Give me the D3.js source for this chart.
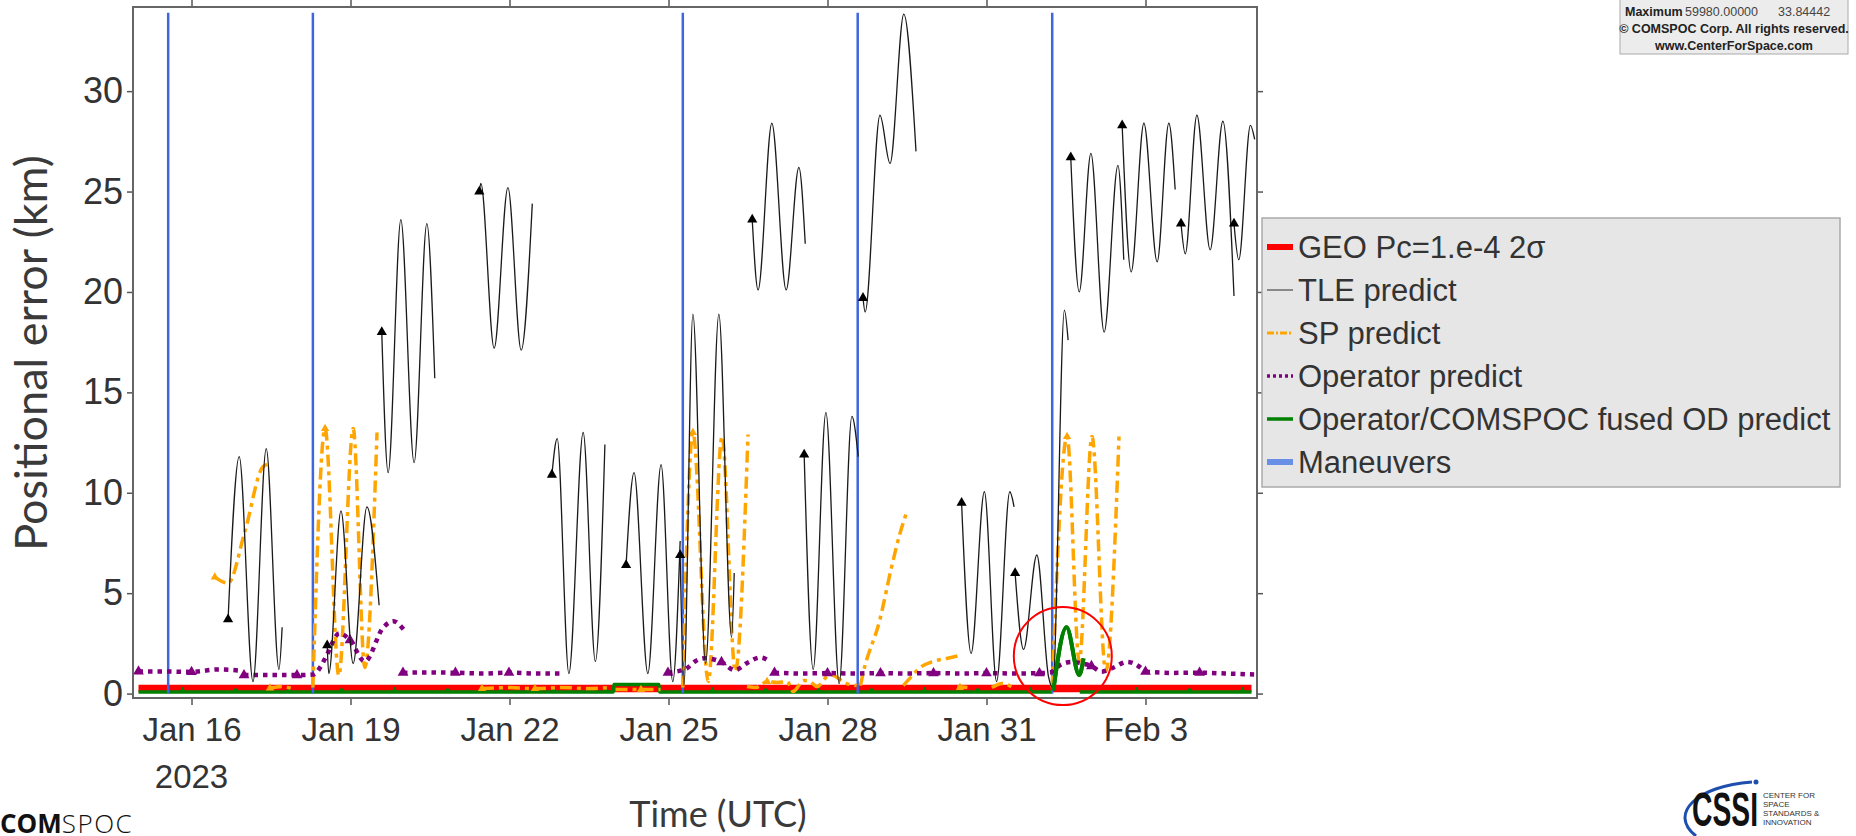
<!DOCTYPE html>
<html>
<head>
<meta charset="utf-8">
<script src="https://cdn.jsdelivr.net/npm/d3@7"></script>
<style>
  body { margin: 0; background: #fff; }
  svg { display: block; font-family: "Liberation Sans", Arial, sans-serif; }
</style>
</head>
<body>
<svg id="chart" width="1856" height="836"></svg>
<script>
// ---- data (time = day of January 2023, e.g. 32.24 = Feb 1 05:45) ----
const maneuverDays = [15.56, 18.29, 25.27, 28.57, 32.24];
const maneuverSpan = [0, 33.9];

const geoPcLevel = 0.25;
const geoPcSpan = [15.0, 36.0];

// TLE predict, one array per TLE epoch (first point = epoch marker)
const tleSegments = [
  [[16.69, 3.7], [16.90, 11.8], [17.16, 0.6], [17.41, 12.2], [17.65, 1.2], [17.71, 3.3]],
  [[18.56, 2.4], [18.59, 1.0], [18.82, 9.1], [19.05, 1.5], [19.31, 9.3], [19.54, 4.4]],
  [[19.59, 18.0], [19.71, 11.0], [19.95, 23.6], [20.20, 11.5], [20.44, 23.4], [20.59, 15.7]],
  [[21.43, 25.0], [21.46, 25.4], [21.71, 17.2], [21.97, 25.2], [22.22, 17.1], [22.43, 24.4]],
  [[22.80, 10.9], [22.90, 12.7], [23.12, 1.0], [23.39, 13.0], [23.62, 1.6], [23.80, 12.4]],
  [[24.20, 6.4], [24.35, 11.0], [24.61, 1.0], [24.86, 11.4], [25.08, 0.6], [25.22, 7.6]],
  [[25.22, 6.9], [25.29, 0.4], [25.46, 18.9], [25.70, 1.5], [25.95, 18.9], [26.19, 2.8], [26.24, 6.0]],
  [[26.58, 23.6], [26.69, 20.1], [26.95, 28.4], [27.22, 20.1], [27.46, 26.2], [27.58, 22.4]],
  [[27.56, 11.9], [27.73, 1.2], [27.97, 14.0], [28.22, 0.5], [28.46, 13.8], [28.58, 11.8]],
  [[28.67, 19.7], [28.71, 19.0], [28.99, 28.8], [29.18, 26.4], [29.44, 33.84], [29.67, 27.0]],
  [[30.53, 9.5], [30.71, 2.0], [30.96, 10.05], [31.19, 0.6], [31.44, 10.05], [31.52, 9.3]],
  [[31.54, 6.0], [31.70, 2.2], [31.95, 6.9], [32.17, 0.85], [32.25, 0.3], [32.47, 19.1], [32.54, 17.6]],
  [[32.59, 26.7], [32.75, 20.0], [32.97, 26.9], [33.22, 18.0], [33.48, 26.3], [33.59, 21.6]],
  [[33.56, 28.3], [33.73, 21.0], [33.97, 28.4], [34.22, 21.5], [34.44, 28.4], [34.56, 25.1]],
  [[34.67, 23.4], [34.75, 21.9], [34.97, 28.8], [35.22, 22.1], [35.46, 28.5], [35.67, 19.8]],
  [[35.67, 23.4], [35.76, 21.6], [35.98, 28.3], [36.06, 27.6]]
];

// SP predict
const spSegments = [
  [[16.44, 5.8], [16.69, 5.5], [17.01, 8.1], [17.35, 11.3], [17.48, 11.45]],
  [[18.29, 0.3], [18.52, 13.2], [18.78, 0.9], [19.05, 13.2], [19.27, 1.3], [19.50, 13.0]],
  [[25.27, 0.3], [25.46, 13.0], [25.75, 0.6], [26.01, 12.8], [26.26, 1.1], [26.50, 12.9]],
  [[26.48, 0.35], [26.65, 0.3], [26.86, 0.6], [27.05, 0.55], [27.24, 0.6], [27.35, 0.1], [27.55, 0.65],
   [27.67, 0.6], [27.80, 0.35], [28.05, 0.95], [28.36, 0.5], [28.55, 0.4]],
  [[28.62, 0.4], [28.67, 1.0], [28.99, 3.7], [29.20, 6.2], [29.37, 8.0], [29.49, 9.0]],
  [[29.43, 0.4], [29.60, 0.9], [29.75, 1.3], [29.99, 1.6], [30.25, 1.75], [30.50, 1.9]],
  [[32.24, 0.3], [32.52, 12.8], [32.75, 1.6], [32.99, 12.8], [33.25, 1.1], [33.50, 12.8]],
  [[17.48, 0.27], [17.70, 0.35], [17.90, 0.25]],
  [[21.48, 0.25], [22.00, 0.3], [22.48, 0.25], [23.00, 0.3], [23.50, 0.25], [23.90, 0.3]],
  [[24.00, 0.2], [24.48, 0.2], [24.85, 0.2]],
  [[30.45, 0.35], [30.64, 0.3]],
  [[31.10, 0.3], [31.30, 0.5], [31.50, 0.3]]
];
const spMarkers = [[16.44, 5.8], [18.52, 13.2], [25.46, 13.0], [32.52, 12.8], [17.48, 0.27],
  [21.48, 0.25], [22.48, 0.25], [24.48, 0.2], [26.86, 0.6], [30.50, 0.3]];

// Operator predict
const operatorSegments = [
  [[15.00, 1.1], [15.50, 1.1], [16.00, 1.08], [16.50, 1.2], [16.90, 1.15]],
  [[16.99, 0.92], [17.50, 0.92], [17.99, 0.92], [18.30, 0.95], [18.45, 1.4], [18.55, 1.9], [18.79, 3.0],
   [18.99, 2.66], [19.27, 1.6], [19.62, 3.3], [19.81, 3.6], [20.00, 3.2]],
  [[19.99, 1.04], [20.50, 1.05], [20.98, 1.04], [21.50, 1.0], [21.99, 1.04], [22.50, 1.0], [22.99, 1.0]],
  [[24.99, 1.04], [25.15, 1.1], [25.34, 1.25], [25.50, 1.6], [25.68, 1.76], [26.00, 1.57], [26.25, 1.17],
   [26.50, 1.55], [26.73, 1.8], [26.92, 1.58]],
  [[27.00, 1.04], [27.50, 1.0], [28.00, 1.02], [28.50, 1.0], [29.00, 1.02], [29.50, 1.0], [30.00, 1.02],
   [30.50, 1.0], [31.00, 1.02], [31.50, 1.0], [32.00, 1.02], [32.20, 1.05], [32.39, 1.42], [32.61, 1.58],
   [32.80, 1.5], [32.98, 1.37], [33.17, 1.09], [33.40, 1.3], [33.65, 1.58], [33.85, 1.4], [33.96, 1.17]],
  [[34.00, 1.09], [34.50, 1.03], [35.02, 1.04], [35.50, 1.0], [36.05, 0.95]]
];
const operatorMarkers = [[15.00, 1.1], [16.00, 1.08], [16.99, 0.92], [17.99, 0.92], [18.99, 2.66],
  [19.99, 1.04], [20.98, 1.04], [21.99, 1.04], [24.99, 1.04], [26.00, 1.57], [27.00, 1.04], [28.00, 1.02],
  [29.00, 1.02], [30.00, 1.02], [31.00, 1.02], [32.00, 1.02], [32.98, 1.37], [34.00, 1.09], [35.02, 1.04]];

// Operator/COMSPOC fused OD predict
const fusedSegments = [
  [[15.00, 0.08], [23.96, 0.08], [23.97, 0.45], [24.82, 0.45], [24.83, 0.08], [32.24, 0.08]],
  [[32.26, 0.15], [32.51, 3.3], [32.75, 0.92], [32.83, 1.75]],
  [[32.76, 0.08], [36.00, 0.08]]
];
const fusedMarkerDays = [15.83, 16.83, 17.83, 18.83, 19.83, 20.83, 21.83, 22.83, 23.83, 25.83,
  26.83, 27.83, 28.83, 29.83, 30.83, 31.83, 33.83, 34.83, 35.83];
const fusedMarkerLevel = 0.08;

// highlighted spot (red circle)
const highlight = [32.44, 1.87];

const xTickDays = [16, 19, 22, 25, 28, 31, 34];
const xTickLabels = ["Jan 16", "Jan 19", "Jan 22", "Jan 25", "Jan 28", "Jan 31", "Feb 3"];
const yTicks = [0, 5, 10, 15, 20, 25, 30];

const legendLabels = ["GEO Pc=1.e-4 2\u03c3", "TLE predict", "SP predict", "Operator predict",
  "Operator/COMSPOC fused OD predict", "Maneuvers"];

const statsMax = ["Maximum", "59980.00000", "33.84442"];

// ---- scales ----
const day0 = Date.UTC(2023, 0, 1);
const toDate = d => new Date(day0 + (d - 1) * 864e5);

const plot = {left: 133, right: 1257, top: 7, bottom: 698};

const x = d3.scaleUtc()
    .domain([toDate(14.896), toDate(36.104)])
    .range([plot.left, plot.right]);
const y = d3.scaleLinear()
    .domain([-0.22, 34.19])
    .range([plot.bottom, plot.top]);

const svg = d3.select("#chart");

svg.append("clipPath").attr("id", "plot-clip")
  .append("rect")
    .attr("x", plot.left).attr("y", plot.top)
    .attr("width", plot.right - plot.left).attr("height", plot.bottom - plot.top);

const line = d3.line()
    .x(d => x(toDate(d[0])))
    .y(d => y(d[1]))
    .curve(d3.curveMonotoneX);

const area = svg.append("g").attr("clip-path", "url(#plot-clip)");

// GEO Pc threshold
area.append("path")
    .datum(geoPcSpan.map(t => [t, geoPcLevel]))
    .attr("d", d3.line().x(d => x(toDate(d[0]))).y(d => y(d[1])))
    .attr("fill", "none").attr("stroke", "#ff0000").attr("stroke-width", 7.5);

// fused OD (flat parts)
area.selectAll(".fused")
  .data(fusedSegments)
  .enter().append("path")
    .attr("class", "fused")
    .attr("d", line)
    .attr("fill", "none").attr("stroke", "#008000")
    .attr("stroke-width", (d, i) => i === 1 ? 4 : 3.5);

area.selectAll(".fused-marker")
  .data(fusedMarkerDays)
  .enter().append("path")
    .attr("class", "fused-marker")
    .attr("transform", d => `translate(${x(toDate(d))},${y(fusedMarkerLevel) - 1})`)
    .attr("d", d3.symbol(d3.symbolTriangle, 22))
    .attr("fill", "#008000");

// maneuvers
area.selectAll(".maneuver")
  .data(maneuverDays)
  .enter().append("line")
    .attr("class", "maneuver")
    .attr("x1", d => x(toDate(d))).attr("x2", d => x(toDate(d)))
    .attr("y1", y(maneuverSpan[1])).attr("y2", y(maneuverSpan[0]))
    .attr("stroke", "#3f66dd").attr("stroke-width", 2.5);

// SP predict
area.selectAll(".sp")
  .data(spSegments)
  .enter().append("path")
    .attr("class", "sp")
    .attr("d", line)
    .attr("fill", "none").attr("stroke", "#ffa500")
    .attr("stroke-width", 3.5).attr("stroke-dasharray", "12,5,4,5");

area.selectAll(".sp-marker")
  .data(spMarkers)
  .enter().append("path")
    .attr("class", "sp-marker")
    .attr("transform", d => `translate(${x(toDate(d[0]))},${y(d[1])})`)
    .attr("d", d3.symbol(d3.symbolTriangle, 30))
    .attr("fill", "#ffa500");

// Operator predict
area.selectAll(".operator")
  .data(operatorSegments)
  .enter().append("path")
    .attr("class", "operator")
    .attr("d", line)
    .attr("fill", "none").attr("stroke", "#800080")
    .attr("stroke-width", 4.5).attr("stroke-dasharray", "4.5,5");

area.selectAll(".operator-marker")
  .data(operatorMarkers)
  .enter().append("path")
    .attr("class", "operator-marker")
    .attr("transform", d => `translate(${x(toDate(d[0]))},${y(d[1])})`)
    .attr("d", d3.symbol(d3.symbolTriangle, 50))
    .attr("fill", "#800080");

// TLE predict
area.selectAll(".tle")
  .data(tleSegments)
  .enter().append("path")
    .attr("class", "tle")
    .attr("d", line)
    .attr("fill", "none").attr("stroke", "#1a1a1a").attr("stroke-width", 1.3);

area.selectAll(".tle-marker")
  .data(tleSegments.map(s => s[0]))
  .enter().append("path")
    .attr("class", "tle-marker")
    .attr("transform", d => `translate(${x(toDate(d[0]))},${y(d[1])})`)
    .attr("d", d3.symbol(d3.symbolTriangle, 45))
    .attr("fill", "#000");

// fused OD bump drawn on top
area.append("path")
    .datum(fusedSegments[1])
    .attr("d", line)
    .attr("fill", "none").attr("stroke", "#008000").attr("stroke-width", 4);

// ---- axes ----
const tickColor = "#555";
function styleAxis(g) {
    g.select(".domain").remove();
    g.selectAll(".tick line").attr("stroke", tickColor).attr("stroke-width", 1.5);
    g.selectAll(".tick text").attr("fill", "#333")
        .style("font-family", '"Liberation Sans", Arial, sans-serif');
}

svg.append("g")
    .attr("transform", `translate(0,${plot.bottom})`)
    .call(d3.axisBottom(x)
        .tickValues(xTickDays.map(toDate))
        .tickFormat((d, i) => xTickLabels[i])
        .tickSize(7).tickPadding(13))
    .call(styleAxis)
    .selectAll(".tick text").style("font-size", "33px");

svg.append("g")
    .attr("transform", `translate(0,${plot.top})`)
    .call(d3.axisTop(x).tickValues(xTickDays.map(toDate)).tickFormat("").tickSize(7))
    .call(styleAxis);

svg.append("g")
    .attr("transform", `translate(${plot.left},0)`)
    .call(d3.axisLeft(y).tickValues(yTicks).tickSize(6).tickPadding(4))
    .call(styleAxis)
    .selectAll(".tick text").style("font-size", "36px");

svg.append("g")
    .attr("transform", `translate(${plot.right},0)`)
    .call(d3.axisRight(y).tickValues(yTicks).tickFormat("").tickSize(6))
    .call(styleAxis);

svg.append("text")
    .attr("x", x(toDate(xTickDays[0]))).attr("y", 776)
    .attr("text-anchor", "middle").attr("dominant-baseline", "central")
    .attr("fill", "#333").style("font-size", "33px")
    .text("2023");

// plot frame
svg.append("rect")
    .attr("x", plot.left).attr("y", plot.top)
    .attr("width", plot.right - plot.left).attr("height", plot.bottom - plot.top)
    .attr("fill", "none").attr("stroke", "#666").attr("stroke-width", 2);

// highlight circle
svg.append("circle")
    .attr("cx", x(toDate(highlight[0]))).attr("cy", y(highlight[1]))
    .attr("r", 49)
    .attr("fill", "none").attr("stroke", "#ff0000").attr("stroke-width", 2);

// axis titles
svg.append("text")
    .attr("transform", "translate(47,353) rotate(-90)")
    .attr("text-anchor", "middle")
    .attr("fill", "#3a3a3a")
    .style("font-family", 'Lato, "Open Sans", sans-serif')
    .style("font-size", "45px")
    .text("Positional error (km)");

svg.append("text")
    .attr("x", 718).attr("y", 827)
    .attr("text-anchor", "middle")
    .attr("fill", "#3a3a3a")
    .style("font-family", 'Lato, "Open Sans", sans-serif')
    .style("font-size", "36px")
    .text("Time (UTC)");

// ---- legend ----
const legend = svg.append("g").attr("transform", "translate(1262,218)");
legend.append("rect")
    .attr("width", 578).attr("height", 269)
    .attr("fill", "#e6e6e6").attr("stroke", "#aaa").attr("stroke-width", 1.5);

const legendStyles = [
    {color: "#ff0000", width: 6, dash: null},
    {color: "#555", width: 1.3, dash: null},
    {color: "#ffa500", width: 3, dash: "7,2,2,2"},
    {color: "#800080", width: 3.5, dash: "3,3"},
    {color: "#008000", width: 3.5, dash: null},
    {color: "#6a8fe6", width: 6, dash: null}
];

const rows = legend.selectAll(".legend-row")
  .data(legendLabels)
  .enter().append("g")
    .attr("class", "legend-row")
    .attr("transform", (d, i) => `translate(0,${29 + i * 43})`);

rows.append("line")
    .attr("x1", 5).attr("x2", 31)
    .attr("stroke", (d, i) => legendStyles[i].color)
    .attr("stroke-width", (d, i) => legendStyles[i].width)
    .attr("stroke-dasharray", (d, i) => legendStyles[i].dash);

rows.append("text")
    .attr("x", 36).attr("dominant-baseline", "central")
    .attr("fill", "#333").style("font-size", "31px")
    .text(d => d);

// ---- stats box (top right) ----
const stats = svg.append("g").attr("transform", "translate(1620,0)");
stats.append("rect")
    .attr("y", -2).attr("width", 228).attr("height", 56)
    .attr("fill", "#ececec").attr("stroke", "#aaa");
stats.append("text").attr("x", 5).attr("y", 16)
    .style("font-size", "12.5px").style("font-weight", "bold").attr("fill", "#222")
    .text(statsMax[0]);
stats.append("text").attr("x", 65).attr("y", 16)
    .style("font-size", "12.5px").attr("fill", "#444").text(statsMax[1]);
stats.append("text").attr("x", 158).attr("y", 16)
    .style("font-size", "12.5px").attr("fill", "#444").text(statsMax[2]);
stats.append("text").attr("x", 114).attr("y", 33).attr("text-anchor", "middle")
    .style("font-size", "12.5px").style("font-weight", "bold").attr("fill", "#222")
    .text("\u00a9 COMSPOC Corp. All rights reserved.");
stats.append("text").attr("x", 114).attr("y", 50).attr("text-anchor", "middle")
    .style("font-size", "12.5px").style("font-weight", "bold").attr("fill", "#222")
    .text("www.CenterForSpace.com");

// ---- logos ----
const comspoc = svg.append("text")
    .attr("x", 0).attr("y", 833)
    .attr("fill", "#111")
    .style("font-family", '"Open Sans", sans-serif').style("font-size", "26px");
comspoc.append("tspan").style("font-weight", "bold").text("COM");
comspoc.append("tspan").style("font-weight", "300").attr("letter-spacing", 1.5).text("SPOC");

const cssi = svg.append("g");
cssi.append("path")
    .attr("d", "M1696,836 C1668,814 1696,786 1752,782")
    .attr("fill", "none").attr("stroke", "#1f4fae").attr("stroke-width", 3);
cssi.append("circle").attr("cx", 1756).attr("cy", 782).attr("r", 2.5).attr("fill", "#1f4fae");
cssi.append("text")
    .attr("x", 1692).attr("y", 826)
    .attr("textLength", 66).attr("lengthAdjust", "spacingAndGlyphs")
    .attr("fill", "#111")
    .style("font-family", '"Liberation Sans Narrow", sans-serif')
    .style("font-size", "48px").style("font-weight", "bold")
    .text("CSSI");
const cssiLines = ["CENTER FOR", "SPACE", "STANDARDS &", "INNOVATION"];
cssi.selectAll(".cssi-line")
  .data(cssiLines)
  .enter().append("text")
    .attr("class", "cssi-line")
    .attr("x", 1763).attr("y", (d, i) => 798 + i * 9)
    .attr("fill", "#333")
    .style("font-family", '"Liberation Sans Narrow", sans-serif').style("font-size", "8px")
    .text(d => d);
</script>
</body>
</html>
